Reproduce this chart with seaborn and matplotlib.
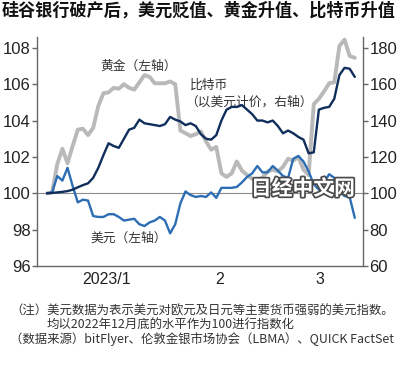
import matplotlib
matplotlib.use("Agg")
import matplotlib.pyplot as plt
import matplotlib.patheffects as pe
import pandas as pd
import seaborn as sns

# Daily values, business days from 2022/12/30 to 2023/3/24 (index 0..60)
# Gold and dollar index on the left axis, bitcoin on the right axis (2022 end = 100)
gold = [100.0, 100.05, 101.6, 102.45, 101.65, 102.6, 103.5, 103.55, 103.2, 103.6,
        104.8, 105.5, 105.55, 105.8, 105.75, 106.0, 105.8, 105.7, 106.1, 106.5,
        106.4, 106.05, 106.05, 106.05, 106.15, 106.0, 103.45, 103.3, 103.15, 103.25,
        103.4, 102.85, 102.4, 102.55, 101.1, 100.9, 101.1, 101.75, 101.25, 101.0,
        100.8, 100.75, 100.85, 101.2, 101.3, 101.2, 101.45, 101.9, 101.8, 102.0,
        101.3, 101.0, 104.9, 105.2, 105.6, 106.05, 106.1, 108.1, 108.45, 107.55,
        107.45]
dollar = [100.0, 100.05, 100.95, 100.7, 101.4, 100.4, 99.5, 99.65, 99.6, 98.75,
          98.7, 98.7, 98.85, 98.85, 98.7, 98.5, 98.55, 98.6, 98.3, 98.2,
          98.4, 98.5, 98.7, 98.5, 97.8, 98.3, 99.45, 100.1, 99.9, 99.8,
          99.85, 99.8, 100.05, 99.75, 100.3, 100.3, 100.3, 100.35, 100.6, 100.9,
          101.1, 101.5, 101.15, 101.15, 101.5, 101.25, 100.95, 100.85, 101.9, 102.05,
          101.75, 101.2, 100.5, 100.2, 100.6, 101.05, 100.85, 100.1, 99.85, 99.8,
          98.65]
bitcoin = [100, 100.2, 100.5, 100.8, 101.2, 102, 103.3, 104.5, 105.5, 108.5,
           114, 121, 127.5, 126, 125, 130, 135, 136, 140.5, 138.5,
           138, 137.5, 137, 138, 142, 140.5, 139.5, 137.5, 138.5, 137,
           132.5, 130, 129.5, 132, 140, 146, 147.5, 147.5, 148.5, 146,
           143.5, 140, 140, 139, 140, 137, 133, 134.5, 133, 131,
           129.5, 122, 122.5, 146, 147, 147.5, 152, 165, 169, 168.5,
           164]

left_ticks = [96, 98, 100, 102, 104, 106, 108]
right_ticks = [60, 80, 100, 120, 140, 160, 180]
month_labels = ["2023/1", "2", "3"]
month_edges = [0.6, 23.2, 43.9]      # month boundaries on the day index
month_mid = [11.7, 33.7, 53.2]       # where the month names sit

df = pd.DataFrame({"day": range(len(gold)), "gold": gold,
                   "dollar": dollar, "bitcoin": bitcoin})

sns.set_style("white")
plt.rcParams["font.family"] = ["Liberation Sans", "Noto Sans CJK SC", "DejaVu Sans"]
CJK = ["Noto Sans CJK SC", "DejaVu Sans"]

GOLD_C = "#b9b9b9"
USD_C = "#2c6db4"
BTC_C = "#0f2e5b"
SPINE_C = "#666666"
TEXT_C = "#333333"

fig = plt.figure(figsize=(4.0, 3.69), dpi=100)
ax = fig.add_axes([0.0925, 0.279, 0.815, 0.621])

ax.axhline(100, color="#8c8c8c", lw=0.8, zorder=1)
sns.lineplot(data=df, x="day", y="gold", ax=ax, color=GOLD_C, lw=2.8, zorder=2)
sns.lineplot(data=df, x="day", y="dollar", ax=ax, color=USD_C, lw=1.7, zorder=3)

ax2 = ax.twinx()
sns.lineplot(data=df, x="day", y="bitcoin", ax=ax2, color=BTC_C, lw=1.7)

ax.set_xlim(-1.95, 61.6)
ax.set_ylim(96, 108.6)
ax2.set_ylim(60, 186)

ax.set_yticks(left_ticks)
ax.set_yticklabels([str(t) for t in left_ticks])
ax2.set_yticks(right_ticks)
ax2.set_yticklabels([str(t) for t in right_ticks])

ax.set_xticks(month_edges)
ax.set_xticklabels([])
ax.set_xticks(month_mid, minor=True)
ax.set_xticklabels(month_labels, minor=True)

ax.set_xlabel("")
ax.set_ylabel("")
ax2.set_ylabel("")

for a in (ax, ax2):
    a.spines["top"].set_visible(False)
    for s in a.spines.values():
        s.set_color(SPINE_C)
        s.set_linewidth(1.0)
ax.spines["right"].set_visible(False)
ax2.spines["left"].set_visible(False)
ax2.spines["bottom"].set_visible(False)

ax.tick_params(axis="y", which="major", length=3.5, width=1, color=SPINE_C,
               direction="out", labelsize=12, labelcolor="#222222", pad=1)
ax2.tick_params(axis="y", which="major", length=3.5, width=1, color=SPINE_C,
                direction="out", labelsize=12, labelcolor="#222222", pad=1)
ax.tick_params(axis="x", which="major", length=5.5, width=1, color=SPINE_C,
               direction="out")
ax.tick_params(axis="x", which="minor", length=0, labelsize=11.5,
               labelcolor="#222222", pad=4)

# series labels
ax.text(17.8, 107.0, "黄金（左轴）", family=CJK, fontsize=9.2, color=TEXT_C,
        ha="center", va="center")
ax.text(27.9, 105.95, "比特币", family=CJK, fontsize=9.2, color=TEXT_C,
        ha="left", va="center")
ax.text(26.9, 105.0, "（以美元计价，右轴）", family=CJK, fontsize=9.2, color=TEXT_C,
        ha="left", va="center")
ax.text(15.9, 97.55, "美元（左轴）", family=CJK, fontsize=9.2, color=TEXT_C,
        ha="center", va="center")

# watermark
fig.text(303 / 400, 1 - 188.5 / 369, "日经中文网", family=CJK, fontsize=15,
         fontweight="bold", color="white", ha="center", va="center", zorder=10,
         path_effects=[pe.withStroke(linewidth=2.5, foreground="#4a4a4a")])

# title
fig.text(2 / 400, 1 - 11 / 369, "硅谷银行破产后，美元贬值、黄金升值、比特币升值",
         family=CJK, fontsize=12.3, fontweight="heavy", color="#111111",
         ha="left", va="center")

# notes
fig.text(10 / 400, 1 - 311 / 369,
         "（注）美元数据为表示美元对欧元及日元等主要货币强弱的美元指数。",
         family=CJK, fontsize=8.95, color=TEXT_C, ha="left", va="center")
fig.text(47 / 400, 1 - 325 / 369, "均以2022年12月底的水平作为100进行指数化",
         family=CJK, fontsize=8.95, color=TEXT_C, ha="left", va="center")
fig.text(10 / 400, 1 - 339 / 369,
         "（数据来源）bitFlyer、伦敦金银市场协会（LBMA）、QUICK FactSet",
         family=CJK, fontsize=8.95, color=TEXT_C, ha="left", va="center")

fig.savefig("out.png", dpi=100)
